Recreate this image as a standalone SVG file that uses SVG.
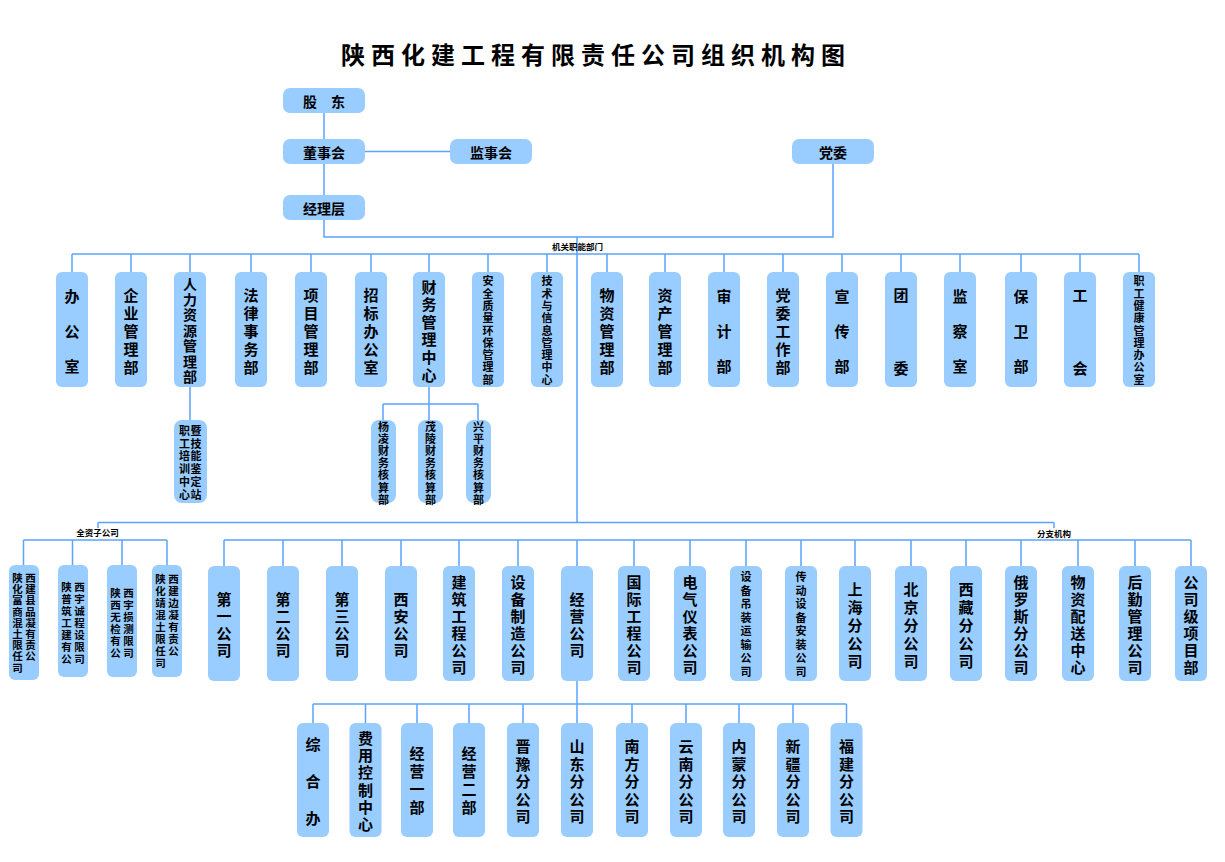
<svg xmlns="http://www.w3.org/2000/svg" width="1225" height="862" viewBox="0 0 1225 862">
<style>
.n{fill:#99CCFF}
.t{font-family:"Noto Sans CJK SC","Noto Sans CJK JP",sans-serif;font-weight:700;fill:#000;text-anchor:middle;dominant-baseline:central}
.f24{font-size:24px;letter-spacing:6px;text-anchor:start}
.f15{font-size:15px}
.f14{font-size:14px}
.f11{font-size:11px}
.f10{font-size:10.5px}
.f8{font-size:8.5px}
.c{stroke:#5BA3FF;stroke-width:1.5;fill:none}
</style>
<rect width="1225" height="862" fill="#fff"/>
<text class="t f24" x="341" y="53">陕西化建工程有限责任公司组织机构图</text>

<g id="connectors">
<path class="c" d="M324,113V139M324,164V195M365,151.5H450M324,220V237H833V164M577,237V522.5"/>
<path class="c" d="M72,254H1139M72,254V272M131,254V272M190,254V272M251,254V272M311,254V272M371,254V272M429,254V272M488,254V272M547,254V272M607,254V272M665,254V272M724,254V272M783,254V272M842,254V272M901,254V272M960,254V272M1021,254V272M1080,254V272M1139,254V272"/>
<path class="c" d="M190,387V420M429,387V420M383,404H478M383,404V420M478,404V420"/>
<path class="c" d="M98,522.5H1054M98,522.5V528M1054,522.5V528"/>
<path class="c" d="M23.5,540H167M23.5,540V565M72.5,540V565M122,540V565M167,540V565"/>
<path class="c" d="M224,540H1191M224,540V566M283,540V566M342,540V566M401,540V566M459,540V566M518,540V566M577,540V566M634,540V566M690,540V566M746,540V566M801,540V566M855,540V566M911,540V566M966,540V566M1021,540V566M1078,540V566M1135,540V566M1191,540V566"/>
<path class="c" d="M577,681V723M313,704H846.5M313,704V723M365.5,704V723M417,704V723M469,704V723M523,704V723M632,704V723M686,704V723M739,704V723M793,704V723M846.5,704V723"/>
<text class="t f8" x="577.5" y="245.5">机关职能部门</text>
<text class="t f8" x="97.5" y="532">全资子公司</text>
<text class="t f8" x="1054" y="533">分支机构</text>
</g>

<g id="gudong"><rect class="n" x="283" y="88" width="82" height="25" rx="7"/><text class="t f14" x="324" y="100.5">股　东</text></g>
<g id="dongshihui"><rect class="n" x="283" y="139" width="82" height="25" rx="7"/><text class="t f14" x="324" y="151.5">董事会</text></g>
<g id="jianshihui"><rect class="n" x="450" y="139" width="82" height="25" rx="7"/><text class="t f14" x="491" y="151.5">监事会</text></g>
<g id="jinglimeng"><rect class="n" x="283" y="195" width="82" height="25" rx="7"/><text class="t f14" x="324" y="207.5">经理层</text></g>
<g id="dangwei"><rect class="n" x="792" y="139" width="82" height="25" rx="7"/><text class="t f14" x="833" y="151.5">党委</text></g>

<g id="d1"><rect class="n" x="56" y="272" width="32" height="115" rx="6"/><text class="t f15"><tspan x="72" y="295">办</tspan><tspan x="72" y="330">公</tspan><tspan x="72" y="365">室</tspan></text></g>
<g id="d2"><rect class="n" x="115" y="272" width="32" height="115" rx="6"/><text class="t f15"><tspan x="131" y="293.5">企</tspan><tspan x="131" y="311.5">业</tspan><tspan x="131" y="329.5">管</tspan><tspan x="131" y="347.5">理</tspan><tspan x="131" y="365.5">部</tspan></text></g>
<g id="d3"><rect class="n" x="174" y="272" width="32" height="115" rx="6"/><text class="t f14"><tspan x="190" y="283">人</tspan><tspan x="190" y="298.5">力</tspan><tspan x="190" y="314">资</tspan><tspan x="190" y="329.5">源</tspan><tspan x="190" y="345">管</tspan><tspan x="190" y="360.5">理</tspan><tspan x="190" y="376">部</tspan></text></g>
<g id="d4"><rect class="n" x="235" y="272" width="32" height="115" rx="6"/><text class="t f15"><tspan x="251" y="293.5">法</tspan><tspan x="251" y="311.5">律</tspan><tspan x="251" y="329.5">事</tspan><tspan x="251" y="347.5">务</tspan><tspan x="251" y="365.5">部</tspan></text></g>
<g id="d5"><rect class="n" x="295" y="272" width="32" height="115" rx="6"/><text class="t f15"><tspan x="311" y="293.5">项</tspan><tspan x="311" y="311.5">目</tspan><tspan x="311" y="329.5">管</tspan><tspan x="311" y="347.5">理</tspan><tspan x="311" y="365.5">部</tspan></text></g>
<g id="d6"><rect class="n" x="355" y="272" width="32" height="115" rx="6"/><text class="t f15"><tspan x="371" y="293.5">招</tspan><tspan x="371" y="311.5">标</tspan><tspan x="371" y="329.5">办</tspan><tspan x="371" y="347.5">公</tspan><tspan x="371" y="365.5">室</tspan></text></g>
<g id="d7"><rect class="n" x="413" y="272" width="32" height="115" rx="6"/><text class="t f15"><tspan x="429" y="285.5">财</tspan><tspan x="429" y="303.1">务</tspan><tspan x="429" y="320.7">管</tspan><tspan x="429" y="338.3">理</tspan><tspan x="429" y="355.9">中</tspan><tspan x="429" y="373.5">心</tspan></text></g>
<g id="d8"><rect class="n" x="472" y="272" width="32" height="115" rx="6"/><text class="t f11"><tspan x="488" y="280.3">安</tspan><tspan x="488" y="292.6">全</tspan><tspan x="488" y="304.9">质</tspan><tspan x="488" y="317.2">量</tspan><tspan x="488" y="329.5">环</tspan><tspan x="488" y="341.8">保</tspan><tspan x="488" y="354.1">管</tspan><tspan x="488" y="366.4">理</tspan><tspan x="488" y="378.7">部</tspan></text></g>
<g id="d9"><rect class="n" x="531" y="272" width="32" height="115" rx="6"/><text class="t f11"><tspan x="547" y="280.3">技</tspan><tspan x="547" y="292.6">术</tspan><tspan x="547" y="304.9">与</tspan><tspan x="547" y="317.2">信</tspan><tspan x="547" y="329.5">息</tspan><tspan x="547" y="341.8">管</tspan><tspan x="547" y="354.1">理</tspan><tspan x="547" y="366.4">中</tspan><tspan x="547" y="378.7">心</tspan></text></g>
<g id="d10"><rect class="n" x="591" y="272" width="32" height="115" rx="6"/><text class="t f15"><tspan x="607" y="293.5">物</tspan><tspan x="607" y="311.5">资</tspan><tspan x="607" y="329.5">管</tspan><tspan x="607" y="347.5">理</tspan><tspan x="607" y="365.5">部</tspan></text></g>
<g id="d11"><rect class="n" x="649" y="272" width="32" height="115" rx="6"/><text class="t f15"><tspan x="665" y="293.5">资</tspan><tspan x="665" y="311.5">产</tspan><tspan x="665" y="329.5">管</tspan><tspan x="665" y="347.5">理</tspan><tspan x="665" y="365.5">部</tspan></text></g>
<g id="d12"><rect class="n" x="708" y="272" width="32" height="115" rx="6"/><text class="t f15"><tspan x="724" y="295">审</tspan><tspan x="724" y="330">计</tspan><tspan x="724" y="365">部</tspan></text></g>
<g id="d13"><rect class="n" x="767" y="272" width="32" height="115" rx="6"/><text class="t f15"><tspan x="783" y="293.5">党</tspan><tspan x="783" y="311.5">委</tspan><tspan x="783" y="329.5">工</tspan><tspan x="783" y="347.5">作</tspan><tspan x="783" y="365.5">部</tspan></text></g>
<g id="d14"><rect class="n" x="826" y="272" width="32" height="115" rx="6"/><text class="t f15"><tspan x="842" y="295">宣</tspan><tspan x="842" y="330">传</tspan><tspan x="842" y="365">部</tspan></text></g>
<g id="d15"><rect class="n" x="885" y="272" width="32" height="115" rx="6"/><text class="t f15"><tspan x="901" y="293.5">团</tspan><tspan x="901" y="366.5">委</tspan></text></g>
<g id="d16"><rect class="n" x="944" y="272" width="32" height="115" rx="6"/><text class="t f15"><tspan x="960" y="295">监</tspan><tspan x="960" y="330">察</tspan><tspan x="960" y="365">室</tspan></text></g>
<g id="d17"><rect class="n" x="1005" y="272" width="32" height="115" rx="6"/><text class="t f15"><tspan x="1021" y="295">保</tspan><tspan x="1021" y="330">卫</tspan><tspan x="1021" y="365">部</tspan></text></g>
<g id="d18"><rect class="n" x="1064" y="272" width="32" height="115" rx="6"/><text class="t f15"><tspan x="1080" y="293.5">工</tspan><tspan x="1080" y="366.5">会</tspan></text></g>
<g id="d19"><rect class="n" x="1123" y="272" width="32" height="115" rx="6"/><text class="t f11"><tspan x="1139" y="280.3">职</tspan><tspan x="1139" y="292.6">工</tspan><tspan x="1139" y="304.9">健</tspan><tspan x="1139" y="317.2">康</tspan><tspan x="1139" y="329.5">管</tspan><tspan x="1139" y="341.8">理</tspan><tspan x="1139" y="354.1">办</tspan><tspan x="1139" y="366.4">公</tspan><tspan x="1139" y="378.7">室</tspan></text></g>

<g id="s1"><rect class="n" x="174" y="420" width="33" height="83" rx="8"/><text class="t f11"><tspan x="184.5" y="430">职</tspan><tspan x="184.5" y="442.7">工</tspan><tspan x="184.5" y="455.4">培</tspan><tspan x="184.5" y="468.1">训</tspan><tspan x="184.5" y="480.8">中</tspan><tspan x="184.5" y="493.5">心</tspan><tspan x="196" y="430">暨</tspan><tspan x="196" y="442.7">技</tspan><tspan x="196" y="455.4">能</tspan><tspan x="196" y="468.1">鉴</tspan><tspan x="196" y="480.8">定</tspan><tspan x="196" y="493.5">站</tspan></text></g>
<g id="s2"><rect class="n" x="371" y="420" width="25" height="83" rx="8"/><text class="t f11"><tspan x="383.5" y="426">杨</tspan><tspan x="383.5" y="438.1">凌</tspan><tspan x="383.5" y="450.2">财</tspan><tspan x="383.5" y="462.3">务</tspan><tspan x="383.5" y="474.4">核</tspan><tspan x="383.5" y="486.5">算</tspan><tspan x="383.5" y="498.6">部</tspan></text></g>
<g id="s3"><rect class="n" x="418" y="420" width="25" height="83" rx="8"/><text class="t f11"><tspan x="430.5" y="426">茂</tspan><tspan x="430.5" y="438.1">陵</tspan><tspan x="430.5" y="450.2">财</tspan><tspan x="430.5" y="462.3">务</tspan><tspan x="430.5" y="474.4">核</tspan><tspan x="430.5" y="486.5">算</tspan><tspan x="430.5" y="498.6">部</tspan></text></g>
<g id="s4"><rect class="n" x="466" y="420" width="25" height="83" rx="8"/><text class="t f11"><tspan x="478.5" y="426">兴</tspan><tspan x="478.5" y="438.1">平</tspan><tspan x="478.5" y="450.2">财</tspan><tspan x="478.5" y="462.3">务</tspan><tspan x="478.5" y="474.4">核</tspan><tspan x="478.5" y="486.5">算</tspan><tspan x="478.5" y="498.6">部</tspan></text></g>

<g id="z1"><rect class="n" x="9" y="565" width="30" height="115" rx="6"/><text class="t f10"><tspan x="17.5" y="577">陕</tspan><tspan x="30.5" y="577">西</tspan><tspan x="17.5" y="588.2">化</tspan><tspan x="30.5" y="588.2">建</tspan><tspan x="17.5" y="599.4">富</tspan><tspan x="30.5" y="599.4">县</tspan><tspan x="17.5" y="610.6">商</tspan><tspan x="30.5" y="610.6">品</tspan><tspan x="17.5" y="621.8">混</tspan><tspan x="30.5" y="621.8">凝</tspan><tspan x="17.5" y="633">土</tspan><tspan x="30.5" y="633">有</tspan><tspan x="17.5" y="644.2">限</tspan><tspan x="30.5" y="644.2">责</tspan><tspan x="17.5" y="655.4">任</tspan><tspan x="30.5" y="655.4">公</tspan><tspan x="17.5" y="666.6">司</tspan></text></g>
<g id="z2"><rect class="n" x="58" y="565" width="30" height="112" rx="6"/><text class="t f10"><tspan x="66.5" y="586">陕</tspan><tspan x="79.5" y="586">西</tspan><tspan x="66.5" y="598">普</tspan><tspan x="79.5" y="598">宇</tspan><tspan x="66.5" y="610">筑</tspan><tspan x="79.5" y="610">诚</tspan><tspan x="66.5" y="622">工</tspan><tspan x="79.5" y="622">程</tspan><tspan x="66.5" y="634">建</tspan><tspan x="79.5" y="634">设</tspan><tspan x="66.5" y="646">有</tspan><tspan x="79.5" y="646">限</tspan><tspan x="66.5" y="658">公</tspan><tspan x="79.5" y="658">司</tspan></text></g>
<g id="z3"><rect class="n" x="107" y="565" width="30" height="112" rx="6"/><text class="t f10"><tspan x="115.5" y="592">陕</tspan><tspan x="128.5" y="592">西</tspan><tspan x="115.5" y="604">西</tspan><tspan x="128.5" y="604">宇</tspan><tspan x="115.5" y="616">无</tspan><tspan x="128.5" y="616">损</tspan><tspan x="115.5" y="628">检</tspan><tspan x="128.5" y="628">测</tspan><tspan x="115.5" y="640">有</tspan><tspan x="128.5" y="640">限</tspan><tspan x="115.5" y="652">公</tspan><tspan x="128.5" y="652">司</tspan></text></g>
<g id="z4"><rect class="n" x="152" y="565" width="30" height="112" rx="6"/><text class="t f10"><tspan x="160.5" y="578">陕</tspan><tspan x="173.5" y="578">西</tspan><tspan x="160.5" y="590">化</tspan><tspan x="173.5" y="590">建</tspan><tspan x="160.5" y="602">靖</tspan><tspan x="173.5" y="602">边</tspan><tspan x="160.5" y="614">混</tspan><tspan x="173.5" y="614">凝</tspan><tspan x="160.5" y="626">土</tspan><tspan x="173.5" y="626">有</tspan><tspan x="160.5" y="638">限</tspan><tspan x="173.5" y="638">责</tspan><tspan x="160.5" y="650">任</tspan><tspan x="173.5" y="650">公</tspan><tspan x="160.5" y="662">司</tspan></text></g>

<g id="b1"><rect class="n" x="208" y="566" width="32" height="115" rx="6"/><text class="t f15"><tspan x="224" y="598">第</tspan><tspan x="224" y="615">一</tspan><tspan x="224" y="632">公</tspan><tspan x="224" y="649">司</tspan></text></g>
<g id="b2"><rect class="n" x="267" y="566" width="32" height="115" rx="6"/><text class="t f15"><tspan x="283" y="598">第</tspan><tspan x="283" y="615">二</tspan><tspan x="283" y="632">公</tspan><tspan x="283" y="649">司</tspan></text></g>
<g id="b3"><rect class="n" x="326" y="566" width="32" height="115" rx="6"/><text class="t f15"><tspan x="342" y="598">第</tspan><tspan x="342" y="615">三</tspan><tspan x="342" y="632">公</tspan><tspan x="342" y="649">司</tspan></text></g>
<g id="b4"><rect class="n" x="385" y="566" width="32" height="115" rx="6"/><text class="t f15"><tspan x="401" y="598">西</tspan><tspan x="401" y="615">安</tspan><tspan x="401" y="632">公</tspan><tspan x="401" y="649">司</tspan></text></g>
<g id="b5"><rect class="n" x="443" y="566" width="32" height="115" rx="6"/><text class="t f15"><tspan x="459" y="581">建</tspan><tspan x="459" y="598">筑</tspan><tspan x="459" y="615">工</tspan><tspan x="459" y="632">程</tspan><tspan x="459" y="649">公</tspan><tspan x="459" y="666">司</tspan></text></g>
<g id="b6"><rect class="n" x="502" y="566" width="32" height="115" rx="6"/><text class="t f15"><tspan x="518" y="581">设</tspan><tspan x="518" y="598">备</tspan><tspan x="518" y="615">制</tspan><tspan x="518" y="632">造</tspan><tspan x="518" y="649">公</tspan><tspan x="518" y="666">司</tspan></text></g>
<g id="b7"><rect class="n" x="561" y="566" width="32" height="115" rx="6"/><text class="t f15"><tspan x="577" y="598">经</tspan><tspan x="577" y="615">营</tspan><tspan x="577" y="632">公</tspan><tspan x="577" y="649">司</tspan></text></g>
<g id="b8"><rect class="n" x="618" y="566" width="32" height="115" rx="6"/><text class="t f15"><tspan x="634" y="581">国</tspan><tspan x="634" y="598">际</tspan><tspan x="634" y="615">工</tspan><tspan x="634" y="632">程</tspan><tspan x="634" y="649">公</tspan><tspan x="634" y="666">司</tspan></text></g>
<g id="b9"><rect class="n" x="674" y="566" width="32" height="115" rx="6"/><text class="t f15"><tspan x="690" y="581">电</tspan><tspan x="690" y="598">气</tspan><tspan x="690" y="615">仪</tspan><tspan x="690" y="632">表</tspan><tspan x="690" y="649">公</tspan><tspan x="690" y="666">司</tspan></text></g>
<g id="b10"><rect class="n" x="730" y="566" width="32" height="115" rx="6"/><text class="t f11"><tspan x="746" y="576.3">设</tspan><tspan x="746" y="589.8">备</tspan><tspan x="746" y="603.3">吊</tspan><tspan x="746" y="616.8">装</tspan><tspan x="746" y="630.3">运</tspan><tspan x="746" y="643.8">输</tspan><tspan x="746" y="657.3">公</tspan><tspan x="746" y="670.8">司</tspan></text></g>
<g id="b11"><rect class="n" x="785" y="566" width="32" height="115" rx="6"/><text class="t f11"><tspan x="801" y="576.3">传</tspan><tspan x="801" y="589.8">动</tspan><tspan x="801" y="603.3">设</tspan><tspan x="801" y="616.8">备</tspan><tspan x="801" y="630.3">安</tspan><tspan x="801" y="643.8">装</tspan><tspan x="801" y="657.3">公</tspan><tspan x="801" y="670.8">司</tspan></text></g>
<g id="b12"><rect class="n" x="839" y="566" width="32" height="115" rx="6"/><text class="t f15"><tspan x="855" y="587.5">上</tspan><tspan x="855" y="605.5">海</tspan><tspan x="855" y="623.5">分</tspan><tspan x="855" y="641.5">公</tspan><tspan x="855" y="659.5">司</tspan></text></g>
<g id="b13"><rect class="n" x="895" y="566" width="32" height="115" rx="6"/><text class="t f15"><tspan x="911" y="587.5">北</tspan><tspan x="911" y="605.5">京</tspan><tspan x="911" y="623.5">分</tspan><tspan x="911" y="641.5">公</tspan><tspan x="911" y="659.5">司</tspan></text></g>
<g id="b14"><rect class="n" x="950" y="566" width="32" height="115" rx="6"/><text class="t f15"><tspan x="966" y="587.5">西</tspan><tspan x="966" y="605.5">藏</tspan><tspan x="966" y="623.5">分</tspan><tspan x="966" y="641.5">公</tspan><tspan x="966" y="659.5">司</tspan></text></g>
<g id="b15"><rect class="n" x="1005" y="566" width="32" height="115" rx="6"/><text class="t f15"><tspan x="1021" y="581">俄</tspan><tspan x="1021" y="598">罗</tspan><tspan x="1021" y="615">斯</tspan><tspan x="1021" y="632">分</tspan><tspan x="1021" y="649">公</tspan><tspan x="1021" y="666">司</tspan></text></g>
<g id="b16"><rect class="n" x="1062" y="566" width="32" height="115" rx="6"/><text class="t f15"><tspan x="1078" y="581">物</tspan><tspan x="1078" y="598">资</tspan><tspan x="1078" y="615">配</tspan><tspan x="1078" y="632">送</tspan><tspan x="1078" y="649">中</tspan><tspan x="1078" y="666">心</tspan></text></g>
<g id="b17"><rect class="n" x="1119" y="566" width="32" height="115" rx="6"/><text class="t f15"><tspan x="1135" y="581">后</tspan><tspan x="1135" y="598">勤</tspan><tspan x="1135" y="615">管</tspan><tspan x="1135" y="632">理</tspan><tspan x="1135" y="649">公</tspan><tspan x="1135" y="666">司</tspan></text></g>
<g id="b18"><rect class="n" x="1175" y="566" width="32" height="115" rx="6"/><text class="t f15"><tspan x="1191" y="581">公</tspan><tspan x="1191" y="598">司</tspan><tspan x="1191" y="615">级</tspan><tspan x="1191" y="632">项</tspan><tspan x="1191" y="649">目</tspan><tspan x="1191" y="666">部</tspan></text></g>

<g id="j1"><rect class="n" x="297" y="723" width="32" height="114" rx="6"/><text class="t f15"><tspan x="313" y="743.3">综</tspan><tspan x="313" y="780">合</tspan><tspan x="313" y="816.7">办</tspan></text></g>
<g id="j2"><rect class="n" x="349.5" y="723" width="32" height="114" rx="6"/><text class="t f15"><tspan x="365.5" y="736.8">费</tspan><tspan x="365.5" y="754.1">用</tspan><tspan x="365.5" y="771.4">控</tspan><tspan x="365.5" y="788.7">制</tspan><tspan x="365.5" y="806">中</tspan><tspan x="365.5" y="823.3">心</tspan></text></g>
<g id="j3"><rect class="n" x="401" y="723" width="32" height="114" rx="6"/><text class="t f15"><tspan x="417" y="751.5">经</tspan><tspan x="417" y="769.8">营</tspan><tspan x="417" y="788.1">一</tspan><tspan x="417" y="806.4">部</tspan></text></g>
<g id="j4"><rect class="n" x="453" y="723" width="32" height="114" rx="6"/><text class="t f15"><tspan x="469" y="751.5">经</tspan><tspan x="469" y="769.8">营</tspan><tspan x="469" y="788.1">二</tspan><tspan x="469" y="806.4">部</tspan></text></g>
<g id="j5"><rect class="n" x="507" y="723" width="32" height="114" rx="6"/><text class="t f15"><tspan x="523" y="745">晋</tspan><tspan x="523" y="762.5">豫</tspan><tspan x="523" y="780">分</tspan><tspan x="523" y="797.5">公</tspan><tspan x="523" y="815">司</tspan></text></g>
<g id="j6"><rect class="n" x="561" y="723" width="32" height="114" rx="6"/><text class="t f15"><tspan x="577" y="745">山</tspan><tspan x="577" y="762.5">东</tspan><tspan x="577" y="780">分</tspan><tspan x="577" y="797.5">公</tspan><tspan x="577" y="815">司</tspan></text></g>
<g id="j7"><rect class="n" x="616" y="723" width="32" height="114" rx="6"/><text class="t f15"><tspan x="632" y="745">南</tspan><tspan x="632" y="762.5">方</tspan><tspan x="632" y="780">分</tspan><tspan x="632" y="797.5">公</tspan><tspan x="632" y="815">司</tspan></text></g>
<g id="j8"><rect class="n" x="670" y="723" width="32" height="114" rx="6"/><text class="t f15"><tspan x="686" y="745">云</tspan><tspan x="686" y="762.5">南</tspan><tspan x="686" y="780">分</tspan><tspan x="686" y="797.5">公</tspan><tspan x="686" y="815">司</tspan></text></g>
<g id="j9"><rect class="n" x="723" y="723" width="32" height="114" rx="6"/><text class="t f15"><tspan x="739" y="745">内</tspan><tspan x="739" y="762.5">蒙</tspan><tspan x="739" y="780">分</tspan><tspan x="739" y="797.5">公</tspan><tspan x="739" y="815">司</tspan></text></g>
<g id="j10"><rect class="n" x="777" y="723" width="32" height="114" rx="6"/><text class="t f15"><tspan x="793" y="745">新</tspan><tspan x="793" y="762.5">疆</tspan><tspan x="793" y="780">分</tspan><tspan x="793" y="797.5">公</tspan><tspan x="793" y="815">司</tspan></text></g>
<g id="j11"><rect class="n" x="830.5" y="723" width="32" height="114" rx="6"/><text class="t f15"><tspan x="846.5" y="745">福</tspan><tspan x="846.5" y="762.5">建</tspan><tspan x="846.5" y="780">分</tspan><tspan x="846.5" y="797.5">公</tspan><tspan x="846.5" y="815">司</tspan></text></g>
</svg>
